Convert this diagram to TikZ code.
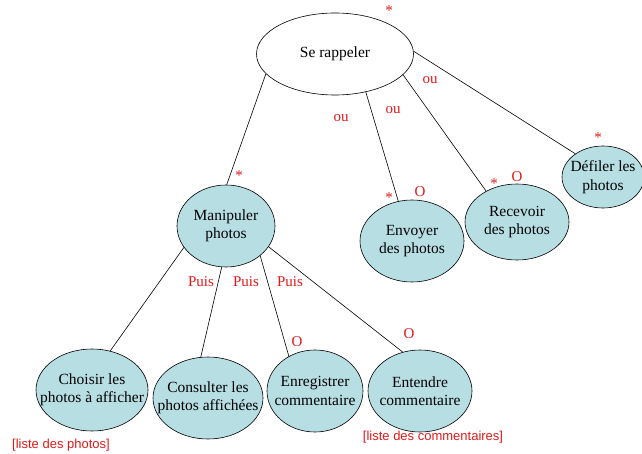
\documentclass[tikz,border=0pt]{standalone}
\usepackage{fontspec}
\setmainfont{Liberation Serif}
\newfontfamily\arialfont{Liberation Sans}
\usetikzlibrary{shapes.geometric}
\definecolor{taskfill}{RGB}{183,222,227}
\definecolor{markred}{RGB}{225,25,25}
\begin{document}
\begin{tikzpicture}[x = 1pt, y = -1pt, line width = 0.6pt,
  task/.style = {ellipse, draw, fill = taskfill, inner xsep = -40pt, inner ysep = -15pt, align = center,
    font = \fontsize{15.5}{18.5}\selectfont},
  redmark/.style = {text = markred, font = \fontsize{15}{18}\selectfont, inner sep = 0pt},
  note/.style = {text = markred, font = \arialfont\fontsize{13}{15}\selectfont, inner sep = 0pt}]
\useasboundingbox (0,0) rectangle (642,454);
% root
\node[task, fill = white, minimum width = 157pt, minimum height = 82pt] (rappeler) at (335,54) {Se rappeler};
% first level
\node[task, minimum width = 98pt, minimum height = 82pt] (manipuler) at (226,226) {Manipuler\\photos};
\node[task, minimum width = 104pt, minimum height = 82pt] (envoyer) at (412,241) {Envoyer\\des photos};
\node[task, minimum width = 104pt, minimum height = 76pt] (recevoir) at (517,222) {Recevoir\\des photos};
\node[task, minimum width = 82pt, minimum height = 62pt] (defiler) at (603,177) {Défiler les\\photos};
% second level
\node[task, minimum width = 112pt, minimum height = 82pt] (choisir) at (92,390) {Choisir les\\photos à afficher};
\node[task, minimum width = 110pt, minimum height = 82pt] (consulter) at (208,398) {Consulter les\\photos affichées};
\node[task, minimum width = 96pt, minimum height = 82pt] (enregistrer) at (315,391) {Enregistrer\\commentaire};
\node[task, minimum width = 104pt, minimum height = 82pt] (entendre) at (420,391) {Entendre\\commentaire};
% links
\draw (rappeler.196) -- (manipuler.89);
\draw (rappeler.309) -- (envoyer.109);
\draw (rappeler.343) -- (recevoir.135);
\draw (rappeler.2) -- (defiler.140);
\draw (manipuler.207) -- (choisir.65);
\draw (manipuler.264) -- (consulter.100);
\draw (manipuler.319) -- (enregistrer.127);
\draw (manipuler.334) -- (entendre.114);
% markers
\node[redmark] (starrap) at (389,11) {*};
\node[redmark] (starman) at (239,176) {*};
\node[redmark] (starenv) at (389,198) {*};
\node[redmark] (starrec) at (494,184) {*};
\node[redmark] (stardef) at (598,138) {*};
\node[redmark] (oenv) at (420,192) {O};
\node[redmark] (orec) at (517,177) {O};
\node[redmark] (oenr) at (297,342) {O};
\node[redmark] (oent) at (409,334) {O};
\node[redmark] (ou1) at (341,118) {ou};
\node[redmark] (ou2) at (393,110) {ou};
\node[redmark] (ou3) at (430,80) {ou};
\node[redmark] (puis1) at (201,282) {Puis};
\node[redmark] (puis2) at (246,282) {Puis};
\node[redmark] (puis3) at (290,282) {Puis};
% lists
\node[note] (listphotos) at (61,445) {[liste des photos]};
\node[note] (listcomm) at (433,437) {[liste des commentaires]};
\end{tikzpicture}
\end{document}
